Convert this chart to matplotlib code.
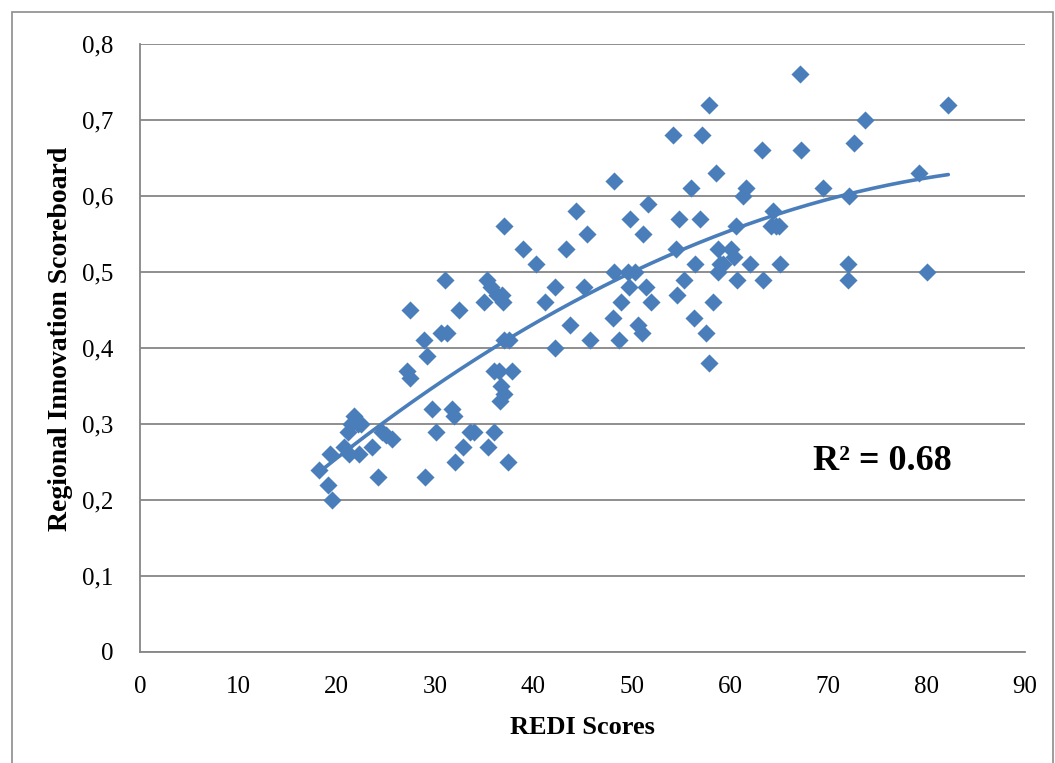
import numpy as np
import matplotlib
matplotlib.use("Agg")
import matplotlib.pyplot as plt
from matplotlib.patches import Rectangle
from matplotlib.ticker import FixedLocator, FixedFormatter

# REDI score (x) and Regional Innovation Scoreboard value (y) for each region
redi = [18.2, 19.3, 19.1, 19.5, 20.7, 21.2, 21.5, 21.8, 22.2, 22.5, 21.3, 22.3,
        23.6, 24.2, 24.6, 25.0, 25.6, 27.2, 27.5, 27.5, 28.9, 29.2, 29.0, 29.7,
        30.1, 30.6, 31.2, 31.0, 31.7, 31.9, 32.0, 32.4, 32.8, 33.6, 34.0, 35.0,
        35.3, 35.4, 35.7, 36.0, 36.0, 36.3, 36.5, 36.6, 36.7, 36.8, 37.0, 36.9,
        37.0, 37.0, 37.4, 37.5, 37.8, 38.9, 40.3, 41.2, 42.2, 42.2, 43.3, 43.7,
        44.3, 45.2, 45.5, 45.8, 48.2, 48.2, 48.1, 48.7, 48.9, 49.6, 49.7, 49.8,
        50.3, 50.6, 51.1, 51.2, 51.5, 51.7, 52.0, 54.2, 54.5, 54.6, 54.8, 55.3,
        56.0, 56.3, 56.4, 56.9, 57.2, 57.6, 57.9, 57.9, 58.3, 58.6, 58.8, 58.8,
        59.0, 59.3, 60.1, 60.4, 60.6, 60.7, 61.3, 61.6, 62.0, 63.3, 63.4, 64.2,
        64.4, 64.7, 65.0, 65.1, 67.1, 67.2, 69.5, 72.0, 72.1, 72.0, 72.6, 73.7,
        79.2, 80.0, 82.2]
ris = [0.24, 0.26, 0.22, 0.20, 0.27, 0.29, 0.30, 0.31, 0.30, 0.30, 0.26, 0.26,
       0.27, 0.23, 0.29, 0.285, 0.28, 0.37, 0.36, 0.45, 0.41, 0.39, 0.23, 0.32,
       0.29, 0.42, 0.42, 0.49, 0.32, 0.31, 0.25, 0.45, 0.27, 0.29, 0.29, 0.46,
       0.49, 0.27, 0.48, 0.29, 0.37, 0.47, 0.37, 0.33, 0.35, 0.47, 0.41, 0.46,
       0.56, 0.34, 0.25, 0.41, 0.37, 0.53, 0.51, 0.46, 0.48, 0.40, 0.53, 0.43,
       0.58, 0.48, 0.55, 0.41, 0.50, 0.62, 0.44, 0.41, 0.46, 0.50, 0.48, 0.57,
       0.50, 0.43, 0.42, 0.55, 0.48, 0.59, 0.46, 0.68, 0.53, 0.47, 0.57, 0.49,
       0.61, 0.44, 0.51, 0.57, 0.68, 0.42, 0.72, 0.38, 0.46, 0.63, 0.53, 0.50,
       0.51, 0.51, 0.53, 0.52, 0.56, 0.49, 0.60, 0.61, 0.51, 0.66, 0.49, 0.56,
       0.58, 0.56, 0.56, 0.51, 0.76, 0.66, 0.61, 0.51, 0.60, 0.49, 0.67, 0.70,
       0.63, 0.50, 0.72]

x_ticks = [0, 10, 20, 30, 40, 50, 60, 70, 80, 90]
y_ticks = [0.0, 0.1, 0.2, 0.3, 0.4, 0.5, 0.6, 0.7, 0.8]
y_tick_labels = ["0", "0,1", "0,2", "0,3", "0,4", "0,5", "0,6", "0,7", "0,8"]
r2_label = "R² = 0.68"

blue = "#4A7EBB"
grid_gray = "#868686"

plt.rcParams["font.family"] = ["Liberation Serif", "DejaVu Serif"]

fig = plt.figure(figsize=(10.55, 7.63), dpi=100)
W, H = 1055, 763

# chart frame
fig.patches.append(Rectangle((12 / W, -0.05), (1053 - 12) / W, 1.05 - 12 / H,
                             transform=fig.transFigure, fill=False,
                             edgecolor="#8C8C8C", linewidth=1.2))

ax = fig.add_axes([140 / W, (H - 652) / H, (1025 - 140) / W, (652 - 44) / H])

ax.set_xlim(0, 90)
ax.set_ylim(0, 0.8)
ax.xaxis.set_major_locator(FixedLocator(x_ticks))
ax.yaxis.set_major_locator(FixedLocator(y_ticks))
ax.yaxis.set_major_formatter(FixedFormatter(y_tick_labels))
ax.tick_params(axis="both", length=0, labelsize=18, colors="black")
ax.tick_params(axis="x", pad=17)
ax.tick_params(axis="y", pad=19)

ax.grid(axis="y", color=grid_gray, linewidth=1.3)
ax.set_axisbelow(True)
for side in ("top", "right"):
    ax.spines[side].set_visible(False)
for side in ("left", "bottom"):
    ax.spines[side].set_color(grid_gray)
    ax.spines[side].set_linewidth(1.3)

ax.scatter(redi, ris, marker="D", s=85, color=blue, linewidths=0, zorder=3)

# second-order polynomial trend line
xa = np.asarray(redi)
ya = np.asarray(ris)
coef = np.polyfit(xa, ya, 2)
xs = np.linspace(xa.min(), xa.max(), 200)
ax.plot(xs, np.polyval(coef, xs), color=blue, linewidth=2.6, zorder=4,
        solid_capstyle="round")

ax.text(68.4, 0.25, r2_label, fontsize=26, fontweight="bold", ha="left", va="center")

ax.set_xlabel("REDI Scores", fontsize=19, fontweight="bold", labelpad=13)
ax.set_ylabel("Regional Innovation Scoreboard", fontsize=20, fontweight="bold", labelpad=7)
ax.yaxis.label.set_y(0.515)

fig.savefig("out.png", dpi=100)
